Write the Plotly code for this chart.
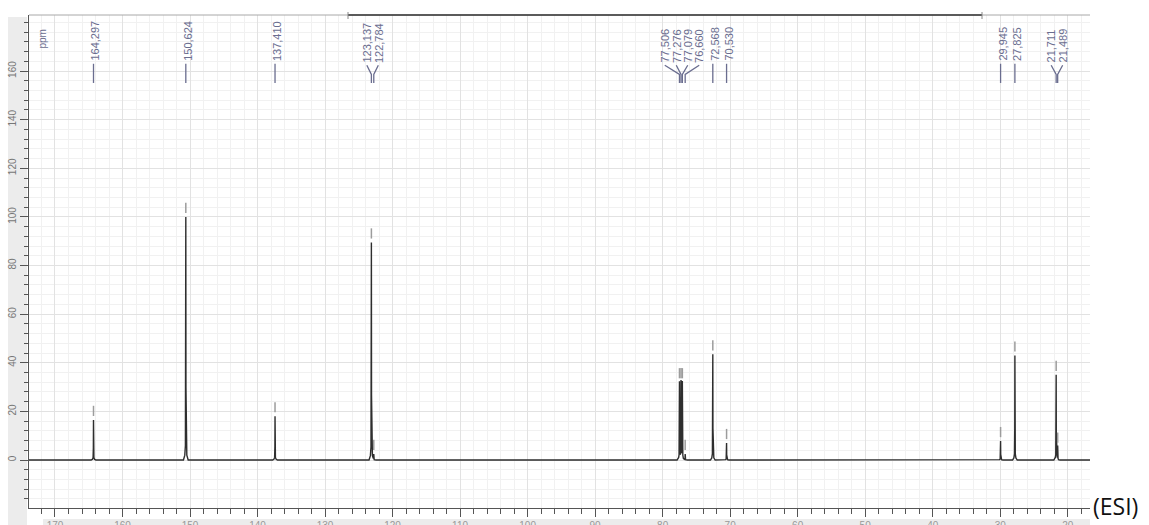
import numpy as np
import plotly.graph_objects as go

# ---------------- data ----------------
peak_ppm = [164.297, 150.624, 137.410, 123.137, 122.784,
            77.506, 77.276, 77.079, 76.660, 72.568, 70.530,
            29.945, 27.825, 21.711, 21.489]
peak_height = [16.5, 100.0, 18.0, 89.5, 2.5,
               32.0, 32.0, 32.0, 2.5, 43.5, 7.0,
               7.8, 43.0, 35.0, 5.5]
peak_label = ["164,297", "150,624", "137,410", "123,137", "122,784",
              "77,506", "77,276", "77,079", "76,660", "72,568", "70,530",
              "29,945", "27,825", "21,711", "21,489"]
# label groups (indices into the peak lists)
label_groups = [[0], [1], [2], [3, 4], [5, 6, 7, 8], [9], [10], [11], [12], [13, 14]]

x_ticks = [170, 160, 150, 140, 130, 120, 110, 100, 90, 80, 70, 60, 50, 40, 30, 20]
y_ticks = [0, 20, 40, 60, 80, 100, 120, 140, 160]

# ---------------- layout constants ----------------
W, H = 1149, 525
ML, MR, MT, MB = 29, 59, 15, 17
X_RANGE = [173.85, 16.7]
Y_RANGE = [-19.74, 183.06]
LABEL_SPACING = 1.7          # ppm between labels of a group
LBL_COLOR = "#6a6d8f"
LINE_COLOR = "#2e2e2e"

pw = W - ML - MR
ph = H - MT - MB


def px_to_paper_x(px):
    return (px - ML) / pw


def px_to_paper_y(py):
    return (H - MB - py) / ph


# ---------------- spectrum line built from the peak list ----------------
prof_off = np.array([-0.35, -0.15, -0.06, -0.02, 0.0, 0.02, 0.06, 0.15, 0.35])
prof_frac = np.array([0.0, 0.02, 0.06, 0.3, 1.0, 0.3, 0.06, 0.02, 0.0])

xs = [X_RANGE[0], X_RANGE[1]]
for p in peak_ppm:
    xs.extend(list(p + prof_off))
xs = np.array(sorted(set(xs), reverse=True))
ys = np.zeros_like(xs)
for p, h in zip(peak_ppm, peak_height):
    ys += h * np.interp(xs, p + prof_off, prof_frac, left=0.0, right=0.0)

fig = go.Figure()
fig.add_trace(go.Scatter(x=xs, y=ys, mode="lines",
                         line=dict(color=LINE_COLOR, width=1.4),
                         hoverinfo="skip", showlegend=False))

# small grey marks above each peak
mx, my = [], []
for p, h in zip(peak_ppm, peak_height):
    mx += [p, p, None]
    my += [h + 1.6, h + 5.8, None]
fig.add_trace(go.Scatter(x=mx, y=my, mode="lines",
                         line=dict(color="#9c9c9c", width=1.5),
                         hoverinfo="skip", showlegend=False))

# ---------------- peak labels at the top ----------------
Y_TEXT = 162.4
Y_BEND = 158.6
Y_END = 155.1
cx, cy = [], []
for grp in label_groups:
    n = len(grp)
    centre = float(np.mean([peak_ppm[i] for i in grp]))
    for k, i in enumerate(grp):
        lx = centre + (n - 1) / 2 * LABEL_SPACING - k * LABEL_SPACING if n > 1 else peak_ppm[i]
        if n > 1:
            cx += [lx, peak_ppm[i], peak_ppm[i], None]
            cy += [Y_TEXT, Y_BEND, Y_END, None]
        else:
            cx += [lx, lx, None]
            cy += [Y_TEXT + 0.6, Y_END, None]
        fig.add_annotation(x=lx, y=Y_TEXT + (0.2 if n > 1 else 0.9), xref="x", yref="y",
                           text=peak_label[i], textangle=-90, showarrow=False,
                           xanchor="center", yanchor="bottom",
                           xshift=(0 if n > 1 else 2),
                           font=dict(family="Liberation Sans, Arial", size=11, color=LBL_COLOR))
fig.add_trace(go.Scatter(x=cx, y=cy, mode="lines",
                         line=dict(color=LBL_COLOR, width=1.3),
                         hoverinfo="skip", showlegend=False))

# "ppm" inside plot (top left)
fig.add_annotation(x=px_to_paper_x(42), y=px_to_paper_y(28), xref="paper", yref="paper",
                   text="ppm", textangle=-90, showarrow=False,
                   xanchor="center", yanchor="top",
                   font=dict(family="Liberation Sans, Arial", size=10, color=LBL_COLOR))

# (ESI) caption
fig.add_annotation(x=1.0, y=px_to_paper_y(506), xref="paper", yref="paper",
                   text="(ESI)", showarrow=False, xanchor="left", yanchor="middle",
                   xshift=1,
                   font=dict(family="Open Sans, Lato", size=23, color="#111111"))

# ---------------- decorative panels / overview strip ----------------
shapes = [
    # left grey panel
    dict(type="rect", xref="paper", yref="paper", layer="below",
         x0=px_to_paper_x(8), x1=px_to_paper_x(27), y0=px_to_paper_y(525), y1=px_to_paper_y(17),
         fillcolor="#ececec", line=dict(width=0)),
    # bottom grey strip
    dict(type="rect", xref="paper", yref="paper", layer="below",
         x0=px_to_paper_x(43), x1=1.0, y0=px_to_paper_y(530), y1=px_to_paper_y(519),
         fillcolor="#ececec", line=dict(width=0)),
    # overview line (light)
    dict(type="line", xref="paper", yref="paper", x0=0, x1=1, y0=1, y1=1,
         line=dict(color="#a8a8a8", width=1)),
    # overview selected range (dark)
    dict(type="line", xref="paper", yref="paper",
         x0=px_to_paper_x(348), x1=px_to_paper_x(982), y0=1, y1=1,
         line=dict(color="#333333", width=1.5)),
    dict(type="line", xref="paper", yref="paper",
         x0=px_to_paper_x(348), x1=px_to_paper_x(348), y0=px_to_paper_y(12), y1=px_to_paper_y(19),
         line=dict(color="#888888", width=1)),
    dict(type="line", xref="paper", yref="paper",
         x0=px_to_paper_x(982), x1=px_to_paper_x(982), y0=px_to_paper_y(12), y1=px_to_paper_y(19),
         line=dict(color="#888888", width=1)),
]

fig.update_layout(
    width=W, height=H,
    margin=dict(l=ML, r=MR, t=MT, b=MB, pad=0, autoexpand=False),
    paper_bgcolor="white", plot_bgcolor="white",
    showlegend=False,
    shapes=shapes,
    xaxis=dict(range=X_RANGE, tickmode="array", tickvals=x_ticks, automargin=False,
               ticktext=[str(v) for v in x_ticks],
               showline=True, linecolor="#555555", linewidth=1,
               ticks="outside", ticklen=8, tickcolor="#555555", tickwidth=1,
               showgrid=True, gridcolor="#e2e2e2", gridwidth=1, zeroline=False,
               tickfont=dict(family="Liberation Sans, Arial", size=10, color="#999999"),
               minor=dict(tickmode="linear", tick0=0, dtick=2, ticks="outside", ticklen=5,
                          tickcolor="#555555", showgrid=True, gridcolor="#f1f1f1")),
    yaxis=dict(range=Y_RANGE, tickmode="array", tickvals=y_ticks, automargin=False,
               ticktext=[str(v) for v in y_ticks], tickangle=-90,
               showline=True, linecolor="#555555", linewidth=1,
               ticks="outside", ticklen=8, tickcolor="#555555", tickwidth=1,
               showgrid=True, gridcolor="#e2e2e2", gridwidth=1, zeroline=False,
               tickfont=dict(family="Liberation Sans, Arial", size=10, color="#777777"),
               minor=dict(tickmode="linear", tick0=0, dtick=4, ticks="outside", ticklen=4,
                          tickcolor="#555555", showgrid=True, gridcolor="#f1f1f1")),
)

fig.write_html("out.html",
               config={"displayModeBar": False},
               post_script="document.body.style.margin='0px';document.body.style.overflow='hidden';")
